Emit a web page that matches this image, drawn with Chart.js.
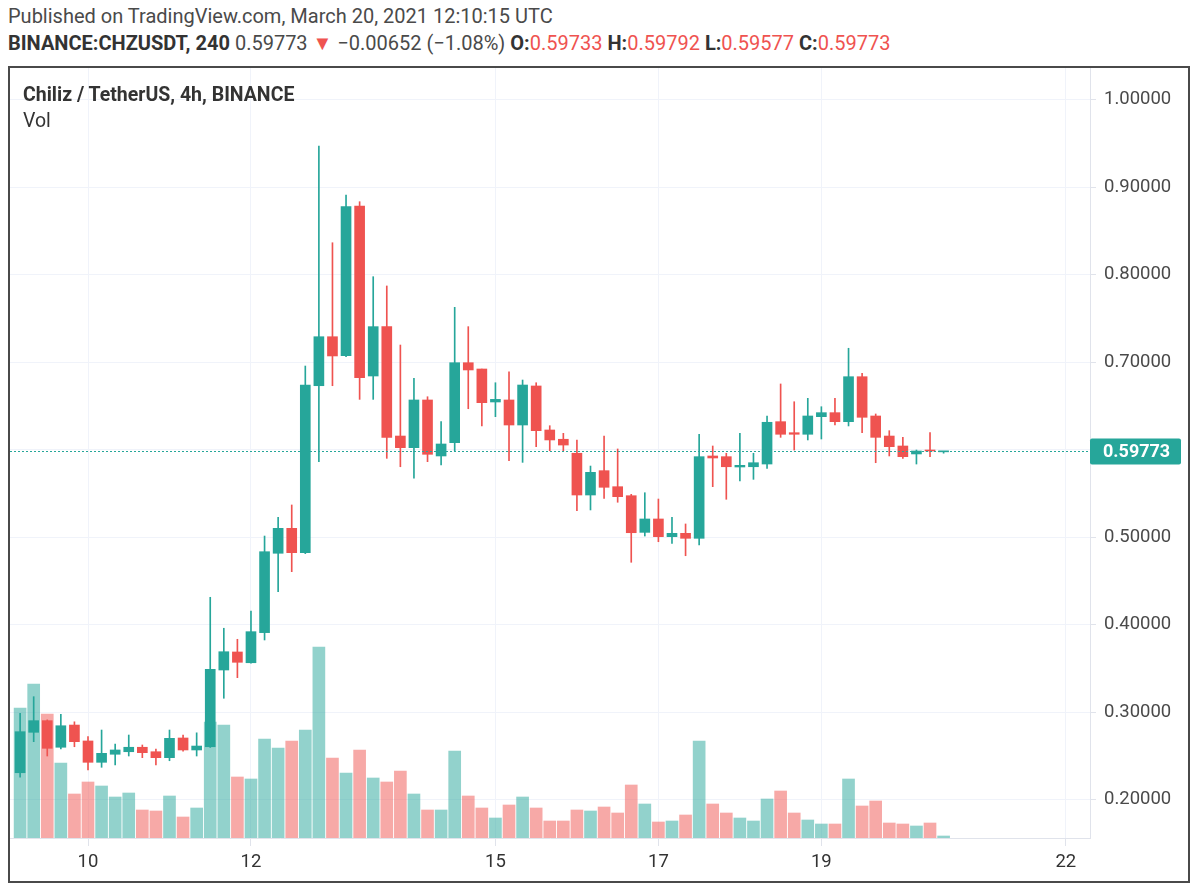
<!DOCTYPE html>
<html>
<head>
<meta charset="utf-8">
<script src="https://cdn.jsdelivr.net/npm/chart.js@4"></script>
<style>
  body { margin: 0; background: #fff; font-family: Roboto, "Open Sans", sans-serif; color: #4a4a4a; }
  .hdr { position: absolute; left: 8px; white-space: nowrap; font-size: 20px; }
  #line1 { top: 4px; }
  #line2 { top: 31px; }
  .b { font-weight: bold; color: #333; }
  .r { color: #ef5350; }
  #frame { position: absolute; left: 8px; top: 66px; width: 1178px; height: 813px; border: 2px solid #4a4a4a; }
  #chart { position: absolute; left: 0; top: 0; }
  .leg { position: absolute; left: 13px; font-size: 19.5px; color: #333; white-space: nowrap; }
  #title { top: 15px; font-weight: bold; }
  #vol { top: 41px; }
</style>
</head>
<body>
<div class="hdr" id="line1">Published on TradingView.com, March 20, 2021 12:10:15 UTC</div>
<div class="hdr" id="line2"><span class="b">BINANCE:CHZUSDT, 240</span> 0.59773 <span class="r">▼</span> −0.00652 (−1.08%) <span class="b">O:</span><span class="r">0.59733</span> <span class="b">H:</span><span class="r">0.59792</span> <span class="b">L:</span><span class="r">0.59577</span> <span class="b">C:</span><span class="r">0.59773</span></div>
<div id="frame">
  <canvas id="chart" width="1178" height="813"></canvas>
  <div class="leg" id="title">Chiliz / TetherUS, 4h, BINANCE</div>
  <div class="leg" id="vol">Vol</div>
</div>
<script>
const $ = id => document.getElementById(id);

// 4h candles, Mar 9 04:00 UTC -> Mar 20 12:00 UTC
const openP  = [0.2306,0.2768,0.2901,0.2597,0.2851,0.2669,0.2425,0.2517,0.2546,0.2597,0.2546,0.2478,0.2703,0.2566,
  0.2603,0.3480,0.3686,0.3563,0.3907,0.4814,0.5099,0.4821,0.6729,0.7289,0.7072,0.8783,0.6840,0.7404,0.6154,0.6021,
  0.6566,0.5926,0.6078,0.6992,0.6920,0.6543,0.6566,0.6280,0.6726,0.6223,0.6117,0.5957,0.5480,0.5758,0.5575,0.5472,
  0.5053,0.5206,0.5004,0.5042,0.4985,0.5926,0.5918,0.5800,0.5803,0.5834,0.6318,0.6192,0.6174,0.6375,0.6421,0.6318,
  0.6832,0.6383,0.6154,0.6040,0.5949,0.5994,0.59733];
const highP  = [0.2985,0.3175,0.2910,0.2973,0.2888,0.2718,0.2794,0.2634,0.2737,0.2623,0.2577,0.2794,0.2737,0.2762,
  0.4311,0.3957,0.3831,0.4154,0.5011,0.5225,0.5366,0.6954,0.9469,0.8363,0.8909,0.8832,0.7975,0.7869,0.7194,0.6814,
  0.6603,0.6318,0.7625,0.7404,0.6920,0.6763,0.6889,0.6794,0.6763,0.6272,0.6185,0.6109,0.5811,0.6154,0.6006,0.5488,
  0.5506,0.5434,0.5225,0.5149,0.6174,0.6040,0.5957,0.6185,0.5957,0.6383,0.6749,0.6546,0.6585,0.6489,0.6585,0.7157,
  0.6871,0.6406,0.6215,0.6139,0.5994,0.6192,0.59792];
const lowP   = [0.2254,0.2661,0.2497,0.2577,0.2603,0.2337,0.2368,0.2394,0.2497,0.2478,0.2394,0.2443,0.2551,0.2497,
  0.2595,0.3157,0.3392,0.3557,0.3823,0.4375,0.4604,0.4810,0.5861,0.6729,0.7060,0.6573,0.6573,0.5899,0.5803,0.5671,
  0.5861,0.5823,0.5986,0.6466,0.6269,0.6375,0.5872,0.5853,0.6032,0.5986,0.5986,0.5301,0.5309,0.5442,0.5397,0.4711,
  0.5011,0.4946,0.4928,0.4786,0.4909,0.5575,0.5431,0.5640,0.5659,0.5785,0.6139,0.5994,0.6109,0.6120,0.6280,0.6269,
  0.6192,0.5849,0.5926,0.5899,0.5834,0.5918,0.59577];
const closeP = [0.2775,0.2901,0.2585,0.2843,0.2661,0.2425,0.2528,0.2566,0.2597,0.2535,0.2478,0.2699,0.2566,0.2611,
  0.3488,0.3689,0.3568,0.3918,0.4832,0.5099,0.4821,0.6737,0.7289,0.7069,0.8775,0.6821,0.7404,0.6139,0.6021,0.6566,
  0.5945,0.6063,0.6992,0.6909,0.6535,0.6573,0.6280,0.6737,0.6215,0.6109,0.6051,0.5480,0.5739,0.5568,0.5461,0.5049,
  0.5206,0.5004,0.5042,0.4985,0.5918,0.5903,0.5803,0.5819,0.5849,0.6311,0.6174,0.6174,0.6383,0.6421,0.6318,0.6832,
  0.6368,0.6139,0.6032,0.5918,0.5983,0.5983,0.59773];
// relative volume (no scale on the original)
const volume = [130,154,124,75,44,56,52,41,45,28,27,42,21,30,116,113,61,59,99,90,97,108,191,80,65,88,60,56,67,44,
  28,28,87,42,30,20,33,41,30,17,17,28,27,31,25,53,34,16,17,23,97,34,25,20,17,39,47,25,18,14,14,59,32,37,15,14,12,15,2];

// x axis: candle index of each day start, and its label
const dayIdx = [5, 17, 35, 47, 59, 77];
const dayLabels = ["10", "12", "15", "17", "19", "22"];
const priceTicks = [0.2, 0.3, 0.4, 0.5, 0.6, 0.7, 0.8, 0.9, 1.0];
const lastPrice = closeP[closeP.length - 1];

const UP = "#26a69a", DOWN = "#ef5350";
const UP_VOL = "rgba(38,166,154,0.5)", DOWN_VOL = "rgba(239,83,80,0.5)";
const GRID = "#f0f3fa", AXIS = "#e0e3eb";

const isUp = i => closeP[i] >= openP[i];
const candleColor = ctx => isUp(ctx.dataIndex) ? UP : DOWN;
const volColor = ctx => isUp(ctx.dataIndex) ? UP_VOL : DOWN_VOL;

const bodies = openP.map((o, i) => ({ x: i, y: [Math.min(o, closeP[i]), Math.max(o, closeP[i])] }));
const wicks = lowP.map((l, i) => ({ x: i, y: [l, highP[i]] }));
const vols = volume.map((v, i) => ({ x: i, y: v }));

// no label overflow padding, so the plot fills the frame
function noPad(axis) {
  axis.paddingTop = axis.paddingBottom = axis.paddingLeft = axis.paddingRight = 0;
}

// dotted last-price line + label on the price axis
const lastPriceLine = {
  id: "lastPriceLine",
  afterDraw(chart) {
    const { ctx, chartArea, scales } = chart;
    const y = Math.round(scales.y.getPixelForValue(lastPrice)) + 0.5;
    ctx.save();
    ctx.strokeStyle = UP;
    ctx.lineWidth = 1;
    ctx.setLineDash([2, 2]);
    ctx.beginPath();
    ctx.moveTo(chartArea.left, y);
    ctx.lineTo(chartArea.right, y);
    ctx.stroke();
    ctx.setLineDash([]);
    ctx.beginPath();
    ctx.moveTo(chartArea.right, y);
    ctx.lineTo(chartArea.right + 6, y);
    ctx.stroke();
    ctx.fillStyle = UP;
    ctx.beginPath();
    ctx.roundRect(chartArea.right, y - 13, 91, 26, 2);
    ctx.fill();
    ctx.fillStyle = "#fff";
    ctx.font = "bold 18px Roboto";
    ctx.textBaseline = "middle";
    ctx.fillText(lastPrice.toFixed(5), chartArea.right + 13, y + 1);
    ctx.restore();
  }
};

new Chart($("chart"), {
  type: "bar",
  data: {
    datasets: [
      { data: bodies, backgroundColor: candleColor, barThickness: 10, minBarLength: 1, grouped: false, yAxisID: "y" },
      { data: wicks, backgroundColor: candleColor, barThickness: 1, grouped: false, yAxisID: "y" },
      { data: vols, backgroundColor: volColor, barThickness: 12, grouped: false, yAxisID: "vol" }
    ]
  },
  options: {
    responsive: false,
    animation: false,
    layout: { padding: 0 },
    plugins: { legend: { display: false }, tooltip: { enabled: false } },
    scales: {
      x: {
        type: "linear",
        min: -0.744,
        max: 78.78,
        offset: false,
        grid: { color: GRID, offset: false, tickLength: 8, tickColor: AXIS },
        border: { color: AXIS },
        afterBuildTicks: axis => { axis.ticks = dayIdx.map(v => ({ value: v })); },
        afterFit: axis => { axis.height = 43; noPad(axis); },
        ticks: {
          autoSkip: false, maxRotation: 0, padding: 5,
          color: "#333", font: { family: "Roboto", size: 18.5 },
          callback: v => dayLabels[dayIdx.indexOf(v)]
        }
      },
      y: {
        position: "right",
        min: 0.156,
        max: 1.036,
        grid: { color: GRID, tickLength: 6, tickColor: AXIS },
        border: { color: AXIS },
        afterBuildTicks: axis => { axis.ticks = priceTicks.map(v => ({ value: v })); },
        afterFit: axis => { axis.width = 98; noPad(axis); },
        ticks: {
          padding: 8, color: "#4a4a4a", font: { family: "Roboto", size: 18.5 },
          callback: v => v.toFixed(5)
        }
      },
      vol: { display: false, min: 0, max: 770 }
    }
  },
  plugins: [lastPriceLine]
});
</script>
</body>
</html>
